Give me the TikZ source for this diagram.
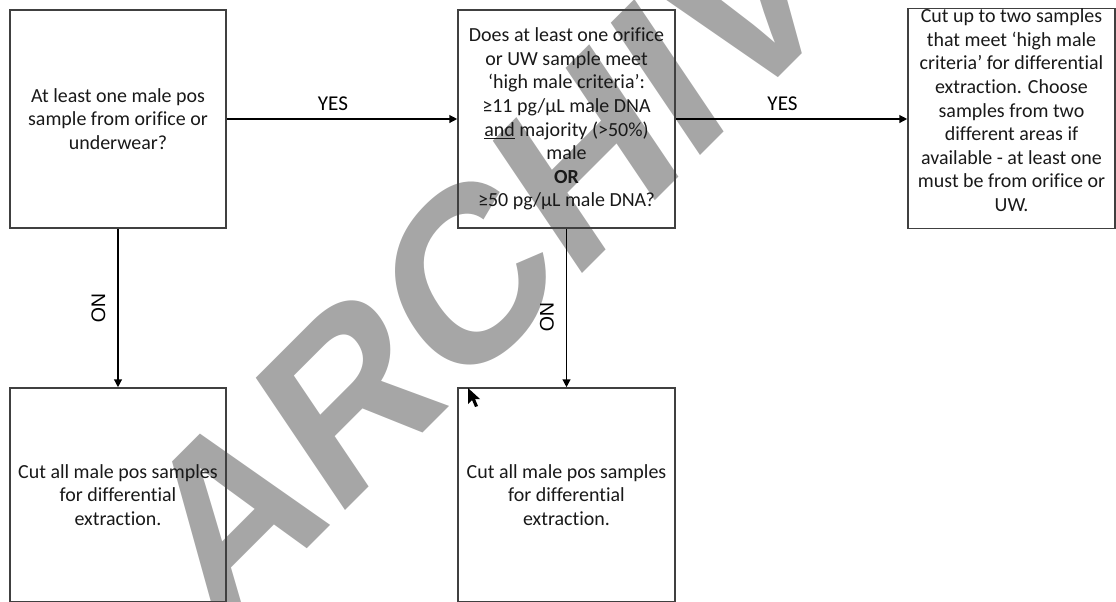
\documentclass[tikz,border=0pt]{standalone}
\usepackage{fontspec}
\setmainfont{Carlito}[Ligatures=NoCommon]
\newfontfamily\marksans{Liberation Sans}
\usepackage{tikz}
\usetikzlibrary{positioning}
\usetikzlibrary{arrows.meta}
\definecolor{wmgray}{HTML}{A6A6A6}
\definecolor{boxgray}{HTML}{404040}
\tikzset {
  % decision and action boxes
  qbox/.style = {draw=boxgray, line width=1.1pt, align=center, inner sep=0pt,
    text=black!90, font=\fontsize{14.2}{16.8}\selectfont},
  % connectors between boxes
  flow/.style = {-{Triangle[length=5.5pt,width=5.5pt]}, line width=0.9pt},
  yes/.style = {midway, above=0.2cm, inner sep=0pt, xshift=-0.225cm,
    font=\fontsize{15}{18}\selectfont},
  no/.style = {sloped, below=0.3cm, inner sep=0pt, font=\marksans\fontsize{14}{16}\selectfont},
  % background stamp, slanted
  stamp/.style = {anchor=base west, cm={0.707,0.707,-0.559,0.829,(0,0)}, inner sep=0pt,
    text=wmgray, font=\marksans\bfseries\fontsize{165}{165}\selectfont},
}

\begin{document}
\begin{tikzpicture}[x=0.025cm, y=-0.025cm]
  \useasboundingbox (0,0) rectangle (1116,601);
  \clip (0,0) rectangle (1116,601);

  \node[stamp] (mark) at (216,640) {ARCHIVE};

  \node[qbox, minimum width=5.4cm, minimum height=5.45cm] (q1) at (118,119)
    {At least one male pos\\sample from orifice or\\underwear?};
  \node[qbox, minimum width=5.425cm, minimum height=5.45cm] (q2) at (566.5,119)
    {Does at least one orifice\\or UW sample meet\\‘high male criteria’:\\≥11 pg/µL male DNA\\\underline{and} majority (>50\%)\\male\\\textbf{OR}\\≥50 pg/µL male DNA?};
  \node[qbox, minimum width=5.175cm, minimum height=5.425cm, text depth=0.42cm] (res1) at (1011.5,118.5)
    {Cut up to two samples\\that meet ‘high male\\criteria’ for differential\\extraction. Choose\\samples from two\\different areas if\\available - at least one\\must be from orifice or\\UW.};
  \node[qbox, minimum width=5.4cm, minimum height=5.35cm] (cut1) at (118,495)
    {Cut all male pos samples\\for differential\\extraction.};
  \node[qbox, minimum width=5.425cm, minimum height=5.35cm] (cut2) at (566.5,495)
    {Cut all male pos samples\\for differential\\extraction.};

  \draw[flow] (q1) -- node[yes] {YES} (q2);
  \draw[flow] (q2.east) -- node[yes] {YES} (q2.east -| res1.west);
  \draw[flow] (q1) -- node[no, pos=0.5] {NO} (cut1);
  \draw[flow] (q2) -- node[no, pos=0.56] {NO} (cut2);

  % pointer
  \fill (468,388) -- (468,404) -- (472,400) -- (475,407) -- (478,406) -- (475,399) -- (480,399) -- cycle;
\end{tikzpicture}
\end{document}
